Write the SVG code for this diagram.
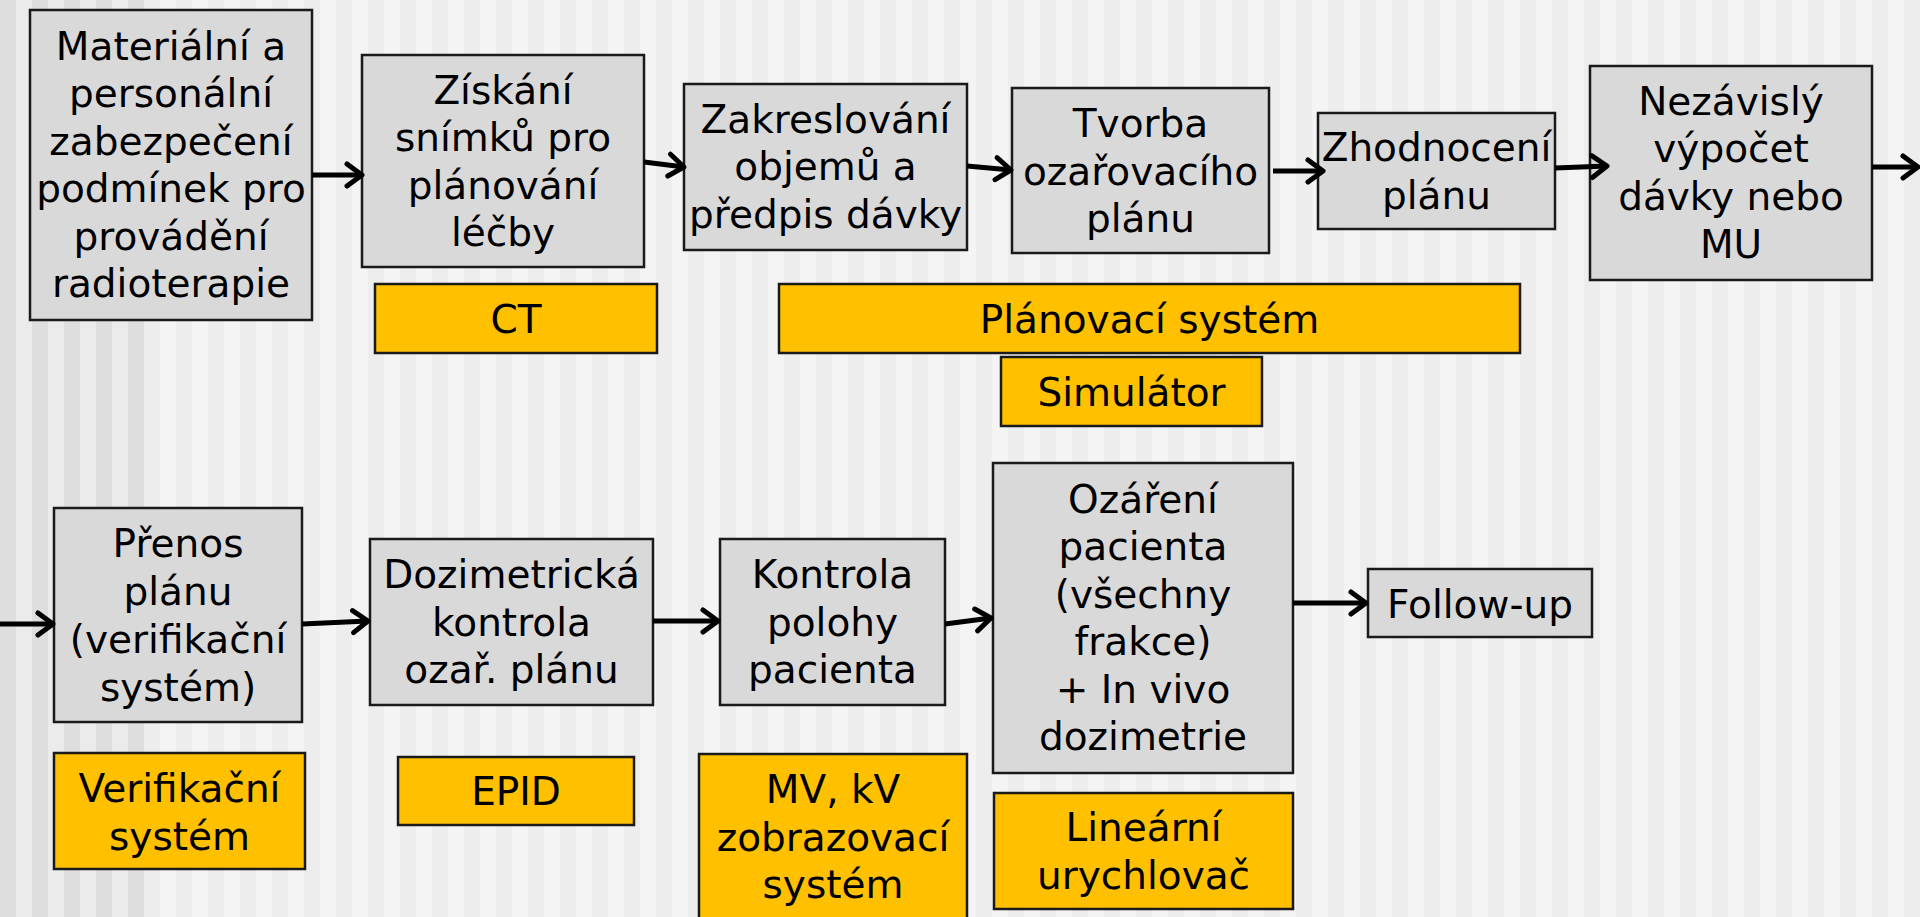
<svg xmlns="http://www.w3.org/2000/svg" width="1920" height="917" viewBox="0 0 1920 917">
<defs>
<pattern id="bgR" patternUnits="userSpaceOnUse" x="0" y="0" width="32" height="917">
<rect x="0" y="0" width="16" height="917" fill="#f4f4f4"/>
<rect x="16" y="0" width="16" height="917" fill="#ededed"/>
</pattern>
<pattern id="bgL" patternUnits="userSpaceOnUse" x="0" y="0" width="32" height="917">
<rect x="0" y="0" width="16" height="917" fill="#dedede"/>
<rect x="16" y="0" width="16" height="917" fill="#ebebeb"/>
</pattern>
<marker id="ah" markerUnits="userSpaceOnUse" markerWidth="40" markerHeight="40" viewBox="-20 -20 40 40" refX="0" refY="0" orient="auto" overflow="visible">
<path d="M-15,-11 L0,0 L-15,11" fill="none" stroke="#000" stroke-width="5" stroke-linecap="round" stroke-linejoin="round"/>
</marker>
</defs>
<style>
.g{fill:#d9d9d9;stroke:#1a1a1a;stroke-width:2.5}
.y{fill:#ffc000;stroke:#1a1a1a;stroke-width:2.5}
text{font-family:"DejaVu Sans","Verdana",sans-serif;font-size:39px;fill:#000;text-anchor:middle}
.c line{stroke:#000;stroke-width:5;marker-end:url(#ah)}
</style>
<rect x="0" y="0" width="1920" height="917" fill="url(#bgR)"/>
<rect x="0" y="0" width="144" height="917" fill="url(#bgL)"/>

<g id="n1"><rect class="g" x="30" y="10" width="282" height="310"/>
<text x="171" y="60">Materiální a</text><text x="171" y="107">personální</text><text x="171" y="155">zabezpečení</text><text x="171" y="202">podmínek pro</text><text x="171" y="250">provádění</text><text x="171" y="297">radioterapie</text></g>

<g id="n2"><rect class="g" x="362" y="55" width="282" height="212"/>
<text x="503" y="104">Získání</text><text x="503" y="151">snímků pro</text><text x="503" y="199">plánování</text><text x="503" y="246">léčby</text></g>

<g id="n3"><rect class="g" x="684" y="84" width="283" height="166"/>
<text x="825.5" y="133">Zakreslování</text><text x="825.5" y="180">objemů a</text><text x="825.5" y="228">předpis dávky</text></g>

<g id="n4"><rect class="g" x="1012" y="88" width="257" height="165"/>
<text x="1140.5" y="137">Tvorba</text><text x="1140.5" y="185">ozařovacího</text><text x="1140.5" y="232">plánu</text></g>

<g id="n5"><rect class="g" x="1318" y="113" width="237" height="116"/>
<text x="1436.5" y="161">Zhodnocení</text><text x="1436.5" y="209">plánu</text></g>

<g id="n6"><rect class="g" x="1590" y="66" width="282" height="214"/>
<text x="1731" y="115">Nezávislý</text><text x="1731" y="162">výpočet</text><text x="1731" y="210">dávky nebo</text><text x="1731" y="258">MU</text></g>

<g id="ct"><rect class="y" x="375" y="284" width="282" height="69"/>
<text x="516" y="333">CT</text></g>

<g id="plan"><rect class="y" x="779" y="284" width="741" height="69"/>
<text x="1149.5" y="333">Plánovací systém</text></g>

<g id="sim"><rect class="y" x="1001" y="357" width="261" height="69"/>
<text x="1131.5" y="406">Simulátor</text></g>

<g id="n7"><rect class="g" x="54" y="508" width="248" height="214"/>
<text x="178" y="557">Přenos</text><text x="178" y="605">plánu</text><text x="178" y="653">(verifikační</text><text x="178" y="701">systém)</text></g>

<g id="ver"><rect class="y" x="54" y="753" width="251" height="116"/>
<text x="179.5" y="802">Verifikační</text><text x="179.5" y="850">systém</text></g>

<g id="n8"><rect class="g" x="370" y="539" width="283" height="166"/>
<text x="511.5" y="588">Dozimetrická</text><text x="511.5" y="636">kontrola</text><text x="511.5" y="683">ozař. plánu</text></g>

<g id="epid"><rect class="y" x="398" y="757" width="236" height="68"/>
<text x="516" y="805">EPID</text></g>

<g id="n9"><rect class="g" x="720" y="539" width="225" height="166"/>
<text x="832.5" y="588">Kontrola</text><text x="832.5" y="636">polohy</text><text x="832.5" y="683">pacienta</text></g>

<g id="mv"><rect class="y" x="699" y="754" width="268" height="180"/>
<text x="833" y="803">MV, kV</text><text x="833" y="851">zobrazovací</text><text x="833" y="898">systém</text></g>

<g id="n10"><rect class="g" x="993" y="463" width="300" height="310"/>
<text x="1143" y="513">Ozáření</text><text x="1143" y="560">pacienta</text><text x="1143" y="608">(všechny</text><text x="1143" y="655">frakce)</text><text x="1143" y="703">+ In vivo</text><text x="1143" y="750">dozimetrie</text></g>

<g id="lin"><rect class="y" x="994" y="793" width="299" height="116"/>
<text x="1143.5" y="841">Lineární</text><text x="1143.5" y="889">urychlovač</text></g>

<g id="n11"><rect class="g" x="1368" y="569" width="224" height="68"/>
<text x="1480" y="618">Follow-up</text></g>

<g id="connectors" class="c">
<line x1="312" y1="175" x2="362" y2="175"/>
<line x1="644" y1="162" x2="684" y2="167"/>
<line x1="967" y1="166" x2="1011" y2="170"/>
<line x1="1273" y1="171" x2="1323" y2="171"/>
<line x1="1555" y1="168" x2="1607" y2="166"/>
<line x1="1872" y1="167" x2="1918" y2="167"/>
<line x1="0" y1="624" x2="53" y2="624"/>
<line x1="302" y1="624" x2="368" y2="621"/>
<line x1="653" y1="621" x2="718" y2="621"/>
<line x1="945" y1="624" x2="991" y2="618"/>
<line x1="1293" y1="603" x2="1366" y2="603"/>
</g>
</svg>
